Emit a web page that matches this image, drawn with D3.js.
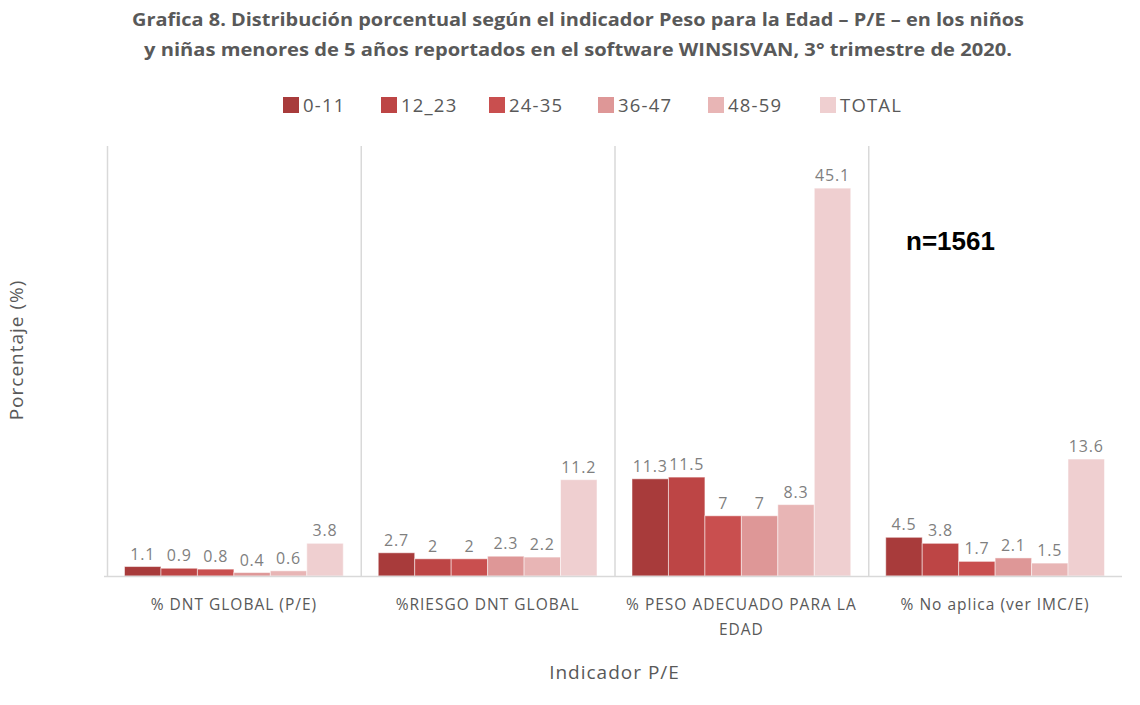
<!DOCTYPE html>
<html>
<head>
<meta charset="utf-8">
<script src="https://cdn.jsdelivr.net/npm/d3@7"></script>
<style>
  body { margin: 0; background: #fff; }
  svg { display: block; }
</style>
</head>
<body>
<div id="chart"></div>
<script>
// indicators on the x axis
const categories = [
  ['% DNT GLOBAL (P/E)'],
  ['%RIESGO DNT GLOBAL'],
  ['% PESO ADECUADO PARA LA', 'EDAD'],
  ['% No aplica (ver IMC/E)']
];
const ageGroups = ['0-11', '12_23', '24-35', '36-47', '48-59', 'TOTAL'];
const groupColors = ['#a83b3b', '#bd4545', '#c94f4f', '#de9797', '#e8b5b5', '#efcfd0'];

// one array per age group, one value per indicator
const v0_11  = [1.1, 2.7, 11.3, 4.5];
const v12_23 = [0.9, 2, 11.5, 3.8];
const v24_35 = [0.8, 2, 7, 1.7];
const v36_47 = [0.4, 2.3, 7, 2.1];
const v48_59 = [0.6, 2.2, 8.3, 1.5];
const vTotal = [3.8, 11.2, 45.1, 13.6];
const series = [v0_11, v12_23, v24_35, v36_47, v48_59, vTotal];

const titleLines = [
  'Grafica 8. Distribución porcentual según el indicador Peso para la Edad – P/E – en los niños',
  'y niñas menores de 5 años reportados en el software WINSISVAN, 3° trimestre de 2020.'
];

const W = 1140, H = 705;
const margin = {top: 146, right: 18, bottom: 129, left: 107};
const width = W - margin.left - margin.right;
const height = H - margin.top - margin.bottom;

const svg = d3.select('#chart').append('svg')
    .attr('width', W)
    .attr('height', H)
    .style('font-family', '"Open Sans", "Noto Sans", sans-serif');

const x = d3.scaleBand()
    .domain(d3.range(categories.length))
    .range([0, width])
    .padding(0);

const xInner = d3.scaleBand()
    .domain(ageGroups)
    .range([0, x.bandwidth()])
    .paddingInner(0)
    .paddingOuter(0.48);

const y = d3.scaleLinear()
    .domain([0, 50])
    .range([height, 0]);

const color = d3.scaleOrdinal()
    .domain(ageGroups)
    .range(groupColors);

// title
svg.append('g')
  .selectAll('text')
  .data(titleLines)
  .join('text')
    .attr('x', 578)
    .attr('y', (d, i) => 26 + i * 30)
    .attr('text-anchor', 'middle')
    .attr('font-size', 17.5)
    .attr('font-weight', 'bold')
    .attr('fill', '#595959')
    .attr('textLength', (d, i) => i === 0 ? 892 : 868)
    .attr('lengthAdjust', 'spacingAndGlyphs')
    .text(d => d);

// legend
const legendX = [283, 381, 489, 598, 708, 820];
const legend = svg.append('g')
  .selectAll('g')
  .data(ageGroups)
  .join('g')
    .attr('transform', (d, i) => `translate(${legendX[i]},97)`);

legend.append('rect')
    .attr('width', 16)
    .attr('height', 16)
    .attr('fill', d => color(d));

legend.append('text')
    .attr('x', 20)
    .attr('y', 15)
    .attr('font-size', 18.5)
    .attr('letter-spacing', 1.2)
    .attr('fill', '#595959')
    .text(d => d);

// y axis title
svg.append('text')
    .attr('transform', 'translate(23,350) rotate(-90)')
    .attr('text-anchor', 'middle')
    .attr('font-size', 19)
    .attr('letter-spacing', 1)
    .attr('fill', '#595959')
    .text('Porcentaje (%)');

const g = svg.append('g')
    .attr('transform', `translate(${margin.left},${margin.top})`);

// category separators
g.append('g')
  .selectAll('line')
  .data(d3.range(categories.length))
  .join('line')
    .attr('x1', d => x(d) + 0.5)
    .attr('x2', d => x(d) + 0.5)
    .attr('y1', 0)
    .attr('y2', height)
    .attr('stroke', '#d9d9d9')
    .attr('stroke-width', 1.5);

// bars
const groups = g.append('g')
  .selectAll('g')
  .data(categories.map((c, i) => i))
  .join('g')
    .attr('transform', d => `translate(${x(d)},0)`);

const cells = groups.selectAll('g')
  .data(ci => ageGroups.map((a, si) => ({key: a, value: series[si][ci]})))
  .join('g');

cells.append('rect')
    .attr('x', d => xInner(d.key))
    .attr('y', d => y(d.value))
    .attr('width', xInner.bandwidth())
    .attr('height', d => height - y(d.value))
    .attr('fill', d => color(d.key))
    .attr('stroke', '#fff')
    .attr('stroke-opacity', 0.5)
    .attr('stroke-width', 1);

cells.append('text')
    .attr('x', d => xInner(d.key) + xInner.bandwidth() / 2)
    .attr('y', d => y(d.value) - 7)
    .attr('text-anchor', 'middle')
    .attr('font-size', 16)
    .attr('letter-spacing', 0.8)
    .attr('fill', '#7f7f7f')
    .text(d => d.value);

// baseline
g.append('line')
    .attr('x1', -3)
    .attr('x2', width)
    .attr('y1', height + 0.5)
    .attr('y2', height + 0.5)
    .attr('stroke', '#d9d9d9')
    .attr('stroke-width', 1.5);

// category labels
const catLabels = g.append('g')
  .selectAll('text')
  .data(categories)
  .join('text')
    .attr('x', (d, i) => x(i) + x.bandwidth() / 2)
    .attr('y', height + 34)
    .attr('text-anchor', 'middle')
    .attr('font-size', 15.5)
    .attr('letter-spacing', 1)
    .attr('fill', '#595959');

catLabels.selectAll('tspan')
  .data(d => d)
  .join('tspan')
    .attr('x', function() { return d3.select(this.parentNode).attr('x'); })
    .attr('dy', (d, i) => i === 0 ? 0 : 25)
    .text(d => d);

// x axis title
svg.append('text')
    .attr('x', margin.left + width / 2)
    .attr('y', 679)
    .attr('text-anchor', 'middle')
    .attr('font-size', 19)
    .attr('letter-spacing', 1)
    .attr('fill', '#595959')
    .text('Indicador P/E');

// sample size note
svg.append('text')
    .attr('x', 906)
    .attr('y', 250)
    .attr('font-family', '"Liberation Sans", Arial, sans-serif')
    .attr('font-size', 26)
    .attr('font-weight', 'bold')
    .attr('fill', '#000')
    .text('n=1561');
</script>
</body>
</html>
